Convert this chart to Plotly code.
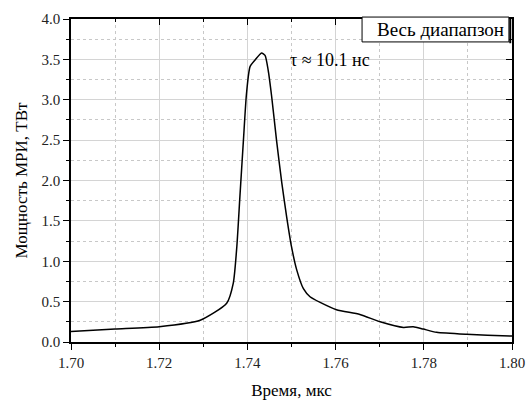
import plotly.graph_objects as go

# Data
time_us = [1.700, 1.710, 1.720, 1.7293, 1.7353, 1.7368, 1.7376, 1.7383, 1.7391, 1.7398,
           1.7406, 1.7417, 1.7432, 1.7440, 1.7447, 1.7455, 1.7466, 1.7478, 1.7489, 1.7500,
           1.7512, 1.7527, 1.7542, 1.7565, 1.7602, 1.7655, 1.7701, 1.7754, 1.7776, 1.7799,
           1.7829, 1.7897, 1.7995, 1.800]
power_tw = [0.13, 0.16, 0.19, 0.27, 0.48, 0.73, 1.18, 1.80, 2.50, 3.08,
            3.41, 3.49, 3.58, 3.55, 3.37, 3.04, 2.50, 1.97, 1.55, 1.18,
            0.89, 0.66, 0.56, 0.49, 0.40, 0.34, 0.25, 0.18, 0.19, 0.16,
            0.12, 0.095, 0.075, 0.075]

x_ticks = [1.70, 1.72, 1.74, 1.76, 1.78, 1.80]
x_tick_labels = ["1.70", "1.72", "1.74", "1.76", "1.78", "1.80"]
y_ticks = [0.0, 0.5, 1.0, 1.5, 2.0, 2.5, 3.0, 3.5, 4.0]
y_tick_labels = ["0.0", "0.5", "1.0", "1.5", "2.0", "2.5", "3.0", "3.5", "4.0"]

x_title = "Время, мкс"
y_title = "Мощность МРИ, ТВт"
legend_text = "Весь диапапзон"
tau_text = "τ ≈ 10.1 нс"

FONT = "Liberation Serif"

fig = go.Figure()
fig.add_trace(go.Scatter(x=time_us, y=power_tw, mode="lines",
                         line=dict(color="black", width=1.5, shape="spline", smoothing=0.6),
                         showlegend=False))
# invisible trace for the mirrored (top/right) axes
fig.add_trace(go.Scatter(x=time_us, y=power_tw, mode="lines", xaxis="x2", yaxis="y2",
                         line=dict(width=0), opacity=0, hoverinfo="skip", showlegend=False))

fig.update_layout(
    width=527, height=400,
    margin=dict(l=71, r=15, t=19, b=58, autoexpand=False),
    plot_bgcolor="white", paper_bgcolor="white",
    font=dict(family=FONT, color="black"),
    xaxis=dict(range=[1.70, 1.80], tickvals=x_ticks, ticktext=x_tick_labels, automargin=False,
               ticks="outside", ticklen=6, tickwidth=1, tickcolor="black",
               showline=True, linecolor="black", linewidth=1.5,
               showgrid=True, gridcolor="#d4d4d4", gridwidth=1, zeroline=False,
               minor=dict(dtick=0.01, tick0=1.70, ticks="outside", ticklen=3, tickcolor="black",
                          showgrid=True, gridcolor="#c8c8c8", griddash="dot", gridwidth=1),
               tickfont=dict(family=FONT, size=15, color="#222"),
               title=dict(text=x_title, font=dict(family=FONT, size=17), standoff=18)),
    yaxis=dict(range=[0, 4.0], tickvals=y_ticks, ticktext=y_tick_labels, automargin=False,
               ticks="outside", ticklen=6, tickwidth=1, tickcolor="black",
               showline=True, linecolor="black", linewidth=1.5,
               showgrid=True, gridcolor="#d4d4d4", gridwidth=1, zeroline=False,
               minor=dict(dtick=0.25, tick0=0, ticks="outside", ticklen=3, tickcolor="black",
                          showgrid=True, gridcolor="#c8c8c8", griddash="dot", gridwidth=1),
               tickfont=dict(family=FONT, size=15, color="#222"),
               title=dict(text=y_title, font=dict(family=FONT, size=17), standoff=10)),
    xaxis2=dict(range=[1.70, 1.80], overlaying="x", side="top", tickvals=x_ticks, automargin=False,
                showticklabels=False, ticks="inside", ticklen=6, tickcolor="black",
                showline=True, linecolor="black", linewidth=1.5, showgrid=False, zeroline=False,
                minor=dict(dtick=0.01, tick0=1.70, ticks="inside", ticklen=3, tickcolor="black",
                           showgrid=False)),
    yaxis2=dict(range=[0, 4.0], overlaying="y", side="right", tickvals=y_ticks, automargin=False,
                showticklabels=False, ticks="inside", ticklen=6, tickcolor="black",
                showline=True, linecolor="black", linewidth=1.5, showgrid=False, zeroline=False,
                minor=dict(dtick=0.25, tick0=0, ticks="inside", ticklen=3, tickcolor="black",
                           showgrid=False)),
)

fig.add_annotation(x=1.7587, y=3.49, xref="x", yref="y", text=tau_text, showarrow=False,
                   font=dict(size=18, family=FONT, color="black"))

# legend-like box at the top right
fig.add_shape(type="rect", xref="paper", yref="paper", x0=0.66, x1=0.993, y0=0.929, y1=1.006,
              line=dict(color="black", width=1), fillcolor="white", layer="above")
fig.add_shape(type="line", xref="paper", yref="paper", x0=0.996, x1=0.996, y0=0.925, y1=1.0,
              line=dict(color="black", width=2), layer="above")
fig.add_annotation(x=0.837, y=0.9675, xref="paper", yref="paper", xanchor="center", yanchor="middle",
                   text=legend_text, showarrow=False,
                   font=dict(size=19, family=FONT, color="black"))

# remove the default page margin so the 527x400 figure fills the window exactly
fig.write_html("out.html", config={"displayModeBar": False},
               post_script="document.body.style.margin='0';document.body.style.overflow='hidden';")
